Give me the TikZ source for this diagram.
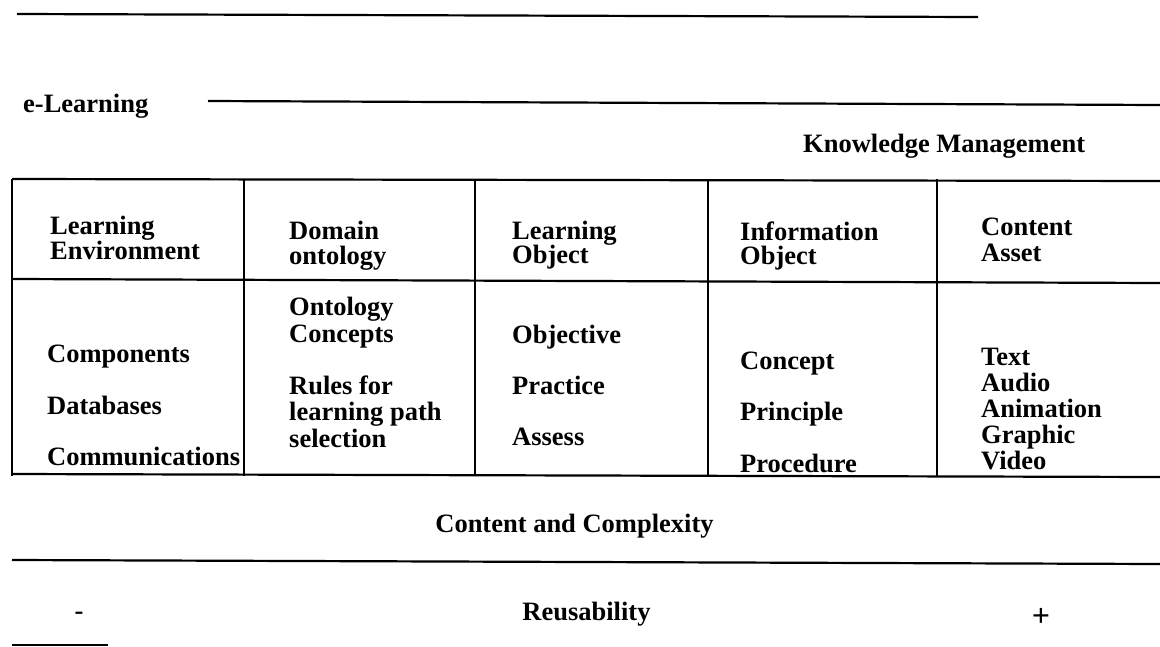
\documentclass[tikz,border=0pt]{standalone}
\usepackage{fontspec}
\setmainfont{Liberation Serif}
\usetikzlibrary{positioning}

\tikzset{
  lbl/.style={font=\fontsize{26.5}{30}\selectfont\bfseries, anchor=base west, inner sep=0pt},
  rule/.style={line width=2.2pt},
}

\begin{document}
\begin{tikzpicture}[x=1pt,y=-1pt]
  \useasboundingbox (0,0) rectangle (1160,646);

  % --- rules above the table ---
  \draw[rule] (17,14) -- (978,17);
  \draw[rule] (208,101) -- (1160,105);

  % --- table grid (open on the right) ---
  \draw[rule] (12,179) -- (1160,181);
  \draw[rule] (12,279) -- (1160,283);
  \draw[rule] (12,474) -- (1160,477);
  \foreach \x in {12,244,475,708,937}
    \draw[rule] (\x,179) -- (\x,476);

  % --- rules below the table ---
  \draw[rule] (12,560) -- (1160,564);
  \draw[line width=1.2pt] (12,645) -- (108,645);

  \begin{scope}[shift={(0,2)}]
  \node[lbl] (elearn) at (23,110) {e-Learning};
  \node[lbl] (km) at (803,150) {Knowledge Management};

  % header row
  \node[lbl] (le1) at (50,232) {Learning};
  \node[lbl] (le2) at (50,257) {Environment};
  \node[lbl] (do1) at (289,237) {Domain};
  \node[lbl] (do2) at (289,262) {ontology};
  \node[lbl] (lo1) at (512,237) {Learning};
  \node[lbl] (lo2) at (512,261) {Object};
  \node[lbl] (io1) at (740,238) {Information};
  \node[lbl] (io2) at (740,262) {Object};
  \node[lbl] (ca1) at (981,233) {Content};
  \node[lbl] (ca2) at (981,259) {Asset};

  % column 1
  \node[lbl] (comp) at (47,360) {Components};
  \node[lbl] (db)   at (47,412) {Databases};
  \node[lbl] (comm) at (47,463) {Communications};
  % column 2
  \node[lbl] (ont1) at (289,313) {Ontology};
  \node[lbl] (ont2) at (289,340) {Concepts};
  \node[lbl] (rul1) at (289,392) {Rules for};
  \node[lbl] (rul2) at (289,418) {learning path};
  \node[lbl] (rul3) at (289,445) {selection};
  % column 3
  \node[lbl] (obj)  at (512,341) {Objective};
  \node[lbl] (prac) at (512,392) {Practice};
  \node[lbl] (ass)  at (512,443) {Assess};
  % column 4
  \node[lbl] (conc) at (740,367) {Concept};
  \node[lbl] (prin) at (740,418) {Principle};
  \node[lbl] (proc) at (740,470) {Procedure};
  % column 5
  \node[lbl] (txt)  at (981,363) {Text};
  \node[lbl] (aud)  at (981,389) {Audio};
  \node[lbl] (anim) at (981,415) {Animation};
  \node[lbl] (gra)  at (981,441) {Graphic};
  \node[lbl] (vid)  at (981,467) {Video};

  % --- scale below the table ---
  \node[lbl, anchor=base] (cc) at (574.5,530) {Content and Complexity};
  \node[lbl, anchor=base] (minus) at (79,617) {-};
  \node[lbl, anchor=base] (reuse) at (586.5,618) {Reusability};
  \node[lbl, anchor=base, font=\fontsize{32}{32}\selectfont\bfseries] (plus) at (1041,624) {+};
  \end{scope}
\end{tikzpicture}
\end{document}
